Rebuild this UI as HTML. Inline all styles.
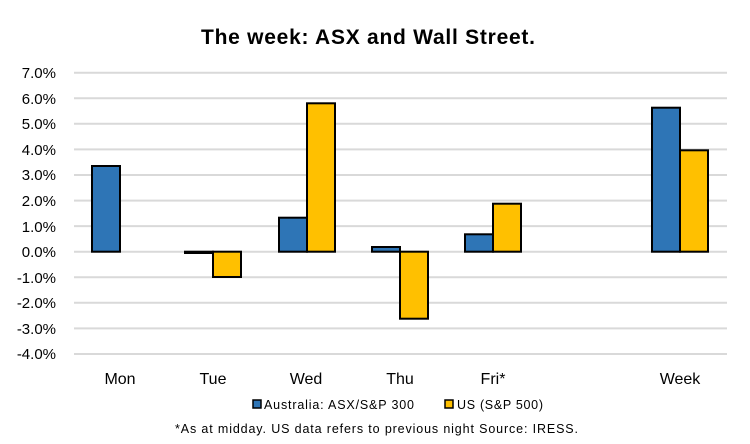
<!DOCTYPE html>
<html><head><meta charset="utf-8"><style>
body{margin:0;background:#fff;}
svg{display:block;font-family:"Liberation Sans",Arial,sans-serif;}
</style></head><body>
<svg width="750" height="444" viewBox="0 0 750 444" xmlns="http://www.w3.org/2000/svg">
<rect width="750" height="444" fill="#fff"/>
<text x="368" y="44" text-anchor="middle" font-size="21" font-weight="bold" fill="#000" textLength="334" lengthAdjust="spacing">The week:  ASX and Wall Street.</text>
<g stroke="#d9d9d9" stroke-width="2">
<line x1="74" x2="727" y1="72.7" y2="72.7"/>
<line x1="74" x2="727" y1="98.3" y2="98.3"/>
<line x1="74" x2="727" y1="123.8" y2="123.8"/>
<line x1="74" x2="727" y1="149.4" y2="149.4"/>
<line x1="74" x2="727" y1="175" y2="175"/>
<line x1="74" x2="727" y1="200.6" y2="200.6"/>
<line x1="74" x2="727" y1="226.1" y2="226.1"/>
<line x1="74" x2="727" y1="251.7" y2="251.7"/>
<line x1="74" x2="727" y1="277.3" y2="277.3"/>
<line x1="74" x2="727" y1="302.8" y2="302.8"/>
<line x1="74" x2="727" y1="328.4" y2="328.4"/>
<line x1="74" x2="727" y1="354" y2="354"/>
</g>
<g font-size="15" fill="#000" text-anchor="end">
<text x="56" y="78">7.0%</text><text x="56" y="104">6.0%</text><text x="56" y="129">5.0%</text>
<text x="56" y="155">4.0%</text><text x="56" y="180">3.0%</text><text x="56" y="206">2.0%</text>
<text x="56" y="232">1.0%</text><text x="56" y="257">0.0%</text><text x="56" y="283">-1.0%</text>
<text x="56" y="308">-2.0%</text><text x="56" y="334">-3.0%</text><text x="56" y="359">-4.0%</text>
</g>
<g stroke="#000" stroke-width="2">
<rect x="92" y="166" width="28" height="85.7" fill="#2E75B6"/>
<rect x="185" y="251.7" width="28" height="1.3" fill="#2E75B6"/>
<rect x="213" y="251.7" width="28" height="25.3" fill="#FFC000"/>
<rect x="279" y="217.7" width="28" height="34" fill="#2E75B6"/>
<rect x="307" y="103.3" width="28" height="148.4" fill="#FFC000"/>
<rect x="372" y="247" width="28" height="4.7" fill="#2E75B6"/>
<rect x="400" y="251.7" width="28" height="67" fill="#FFC000"/>
<rect x="465" y="234.3" width="28" height="17.4" fill="#2E75B6"/>
<rect x="493" y="203.7" width="28" height="48" fill="#FFC000"/>
<rect x="652" y="107.7" width="28" height="144" fill="#2E75B6"/>
<rect x="680" y="150.3" width="28" height="101.4" fill="#FFC000"/>
</g>
<g font-size="16" fill="#000" text-anchor="middle">
<text x="120" y="384">Mon</text><text x="213" y="384">Tue</text><text x="306" y="384">Wed</text>
<text x="400" y="384">Thu</text><text x="493" y="384">Fri*</text><text x="680" y="384">Week</text>
</g>
<rect x="253" y="400" width="8" height="8" fill="#2E75B6" stroke="#000" stroke-width="1.5"/>
<text x="264" y="409" font-size="12.5" fill="#000" textLength="150" lengthAdjust="spacing">Australia:  ASX/S&amp;P 300</text>
<rect x="445" y="400" width="8" height="8" fill="#FFC000" stroke="#000" stroke-width="1.5"/>
<text x="457" y="409" font-size="12.5" fill="#000" textLength="86" lengthAdjust="spacing">US (S&amp;P 500)</text>
<text x="175" y="433" font-size="12.5" fill="#000" textLength="403" lengthAdjust="spacing">*As at midday. US data refers to previous night  Source:  IRESS.</text>
</svg>
</body></html>
